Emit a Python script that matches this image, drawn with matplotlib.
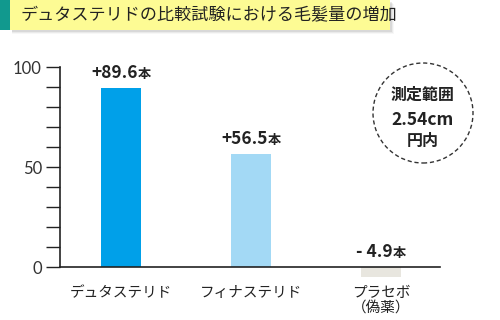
import matplotlib.pyplot as plt
from matplotlib.patches import Rectangle, Circle
from matplotlib.transforms import IdentityTransform

plt.rcParams['font.family'] = ['Noto Sans CJK JP', 'DejaVu Sans']

title = 'デュタステリドの比較試験における毛髪量の増加'
categories = ['デュタステリド', 'フィナステリド', 'プラセボ\n（偽薬）']
values = [89.6, 56.5, -4.9]
value_labels = ['+89.6', '+56.5', '- 4.9']
bar_colors = ['#00a0e9', '#a3d9f5', '#e8e6df']
circle_lines = ['測定範囲', '2.54cm', '円内']

W, H = 500, 320
fig = plt.figure(figsize=(W / 100, H / 100), dpi=100)

# title banner
fig.add_artist(Rectangle((0, (H - 30) / H), 10 / W, 30 / H, transform=fig.transFigure,
                         color='#11998e', lw=0))
for i, a in enumerate([0.08, 0.05, 0.03]):
    fig.add_artist(Rectangle((12 / W, (H - 32 - i) / H), (380 + i) / W, 30 / H,
                             transform=fig.transFigure, color='black', alpha=a, lw=0))
fig.add_artist(Rectangle((10 / W, (H - 30) / H), 380 / W, 30 / H, transform=fig.transFigure,
                         color='#fdfb94', lw=0))
fig.text(20 / W, (H - 15) / H, title, fontsize=12.3, va='center', ha='left', color='#222222')

# axes: x 60..440 px, y 0 at 267 px, 100 at 67 px
ax = fig.add_axes([60 / W, (H - 287) / H, 380 / W, 220 / H])
x = list(range(len(values)))
ax.bar(x, values, width=40 / 130, color=bar_colors, zorder=2)
ax.set_xlim(-61 / 130, 2 + 59 / 130)
ax.set_ylim(-10, 100)

for s in ['top', 'right']:
    ax.spines[s].set_visible(False)
ax.spines['bottom'].set_position(('data', 0))
ax.spines['left'].set_bounds(0, 100)
for s in ['bottom', 'left']:
    ax.spines[s].set_color('#222222')
    ax.spines[s].set_linewidth(1.2)
ax.set_xticks([])
ax.set_yticks(range(0, 101, 10))
ax.set_yticklabels([str(v) if v % 50 == 0 else '' for v in range(0, 101, 10)])
ax.tick_params(axis='y', length=10, width=1, color='#222222', labelsize=12,
               labelcolor='#333333', pad=3)
for lab in ax.get_yticklabels():
    lab.set_fontfamily(['Lato', 'DejaVu Sans'])

# value labels
fig.canvas.draw()
r = fig.canvas.get_renderer()
for xi, v, lab in zip(x, values, value_labels):
    y = max(v, 0)
    t = ax.annotate(lab, (xi, y), xytext=(0, 15), textcoords='offset pixels',
                    ha='center', va='center', fontsize=12.5, fontweight='bold', color='#222222')
    u = ax.annotate('本', (xi, y), xytext=(0, 14), textcoords='offset pixels',
                    ha='left', va='center', fontsize=9.5, fontweight='bold', color='#222222')
    wt = t.get_window_extent(r).width
    wu = u.get_window_extent(r).width
    t.set_position((-wu / 2, 15))
    u.set_position((wt / 2 - wu / 2, 14))

# category labels
for xi, c in zip(x, categories):
    ax.annotate(c, (xi, 0), xytext=(0, -19), textcoords='offset pixels',
                ha='center', va='top', fontsize=10.5, color='#222222', linespacing=1.05)

# dashed circle with measurement note
fig.add_artist(Circle((423, H - 113), 50, transform=IdentityTransform(), fill=False,
                      ls=(0, (3, 2)), lw=1, color='#333333'))
for i, (t, yy) in enumerate(zip(circle_lines, [95, 120, 141])):
    fig.text(423 / W, (H - yy) / H, t, ha='center', va='center',
             fontsize=12.5 if i == 1 else 11.5, fontweight='bold', color='#222222')

fig.savefig('out.png', dpi=100)
